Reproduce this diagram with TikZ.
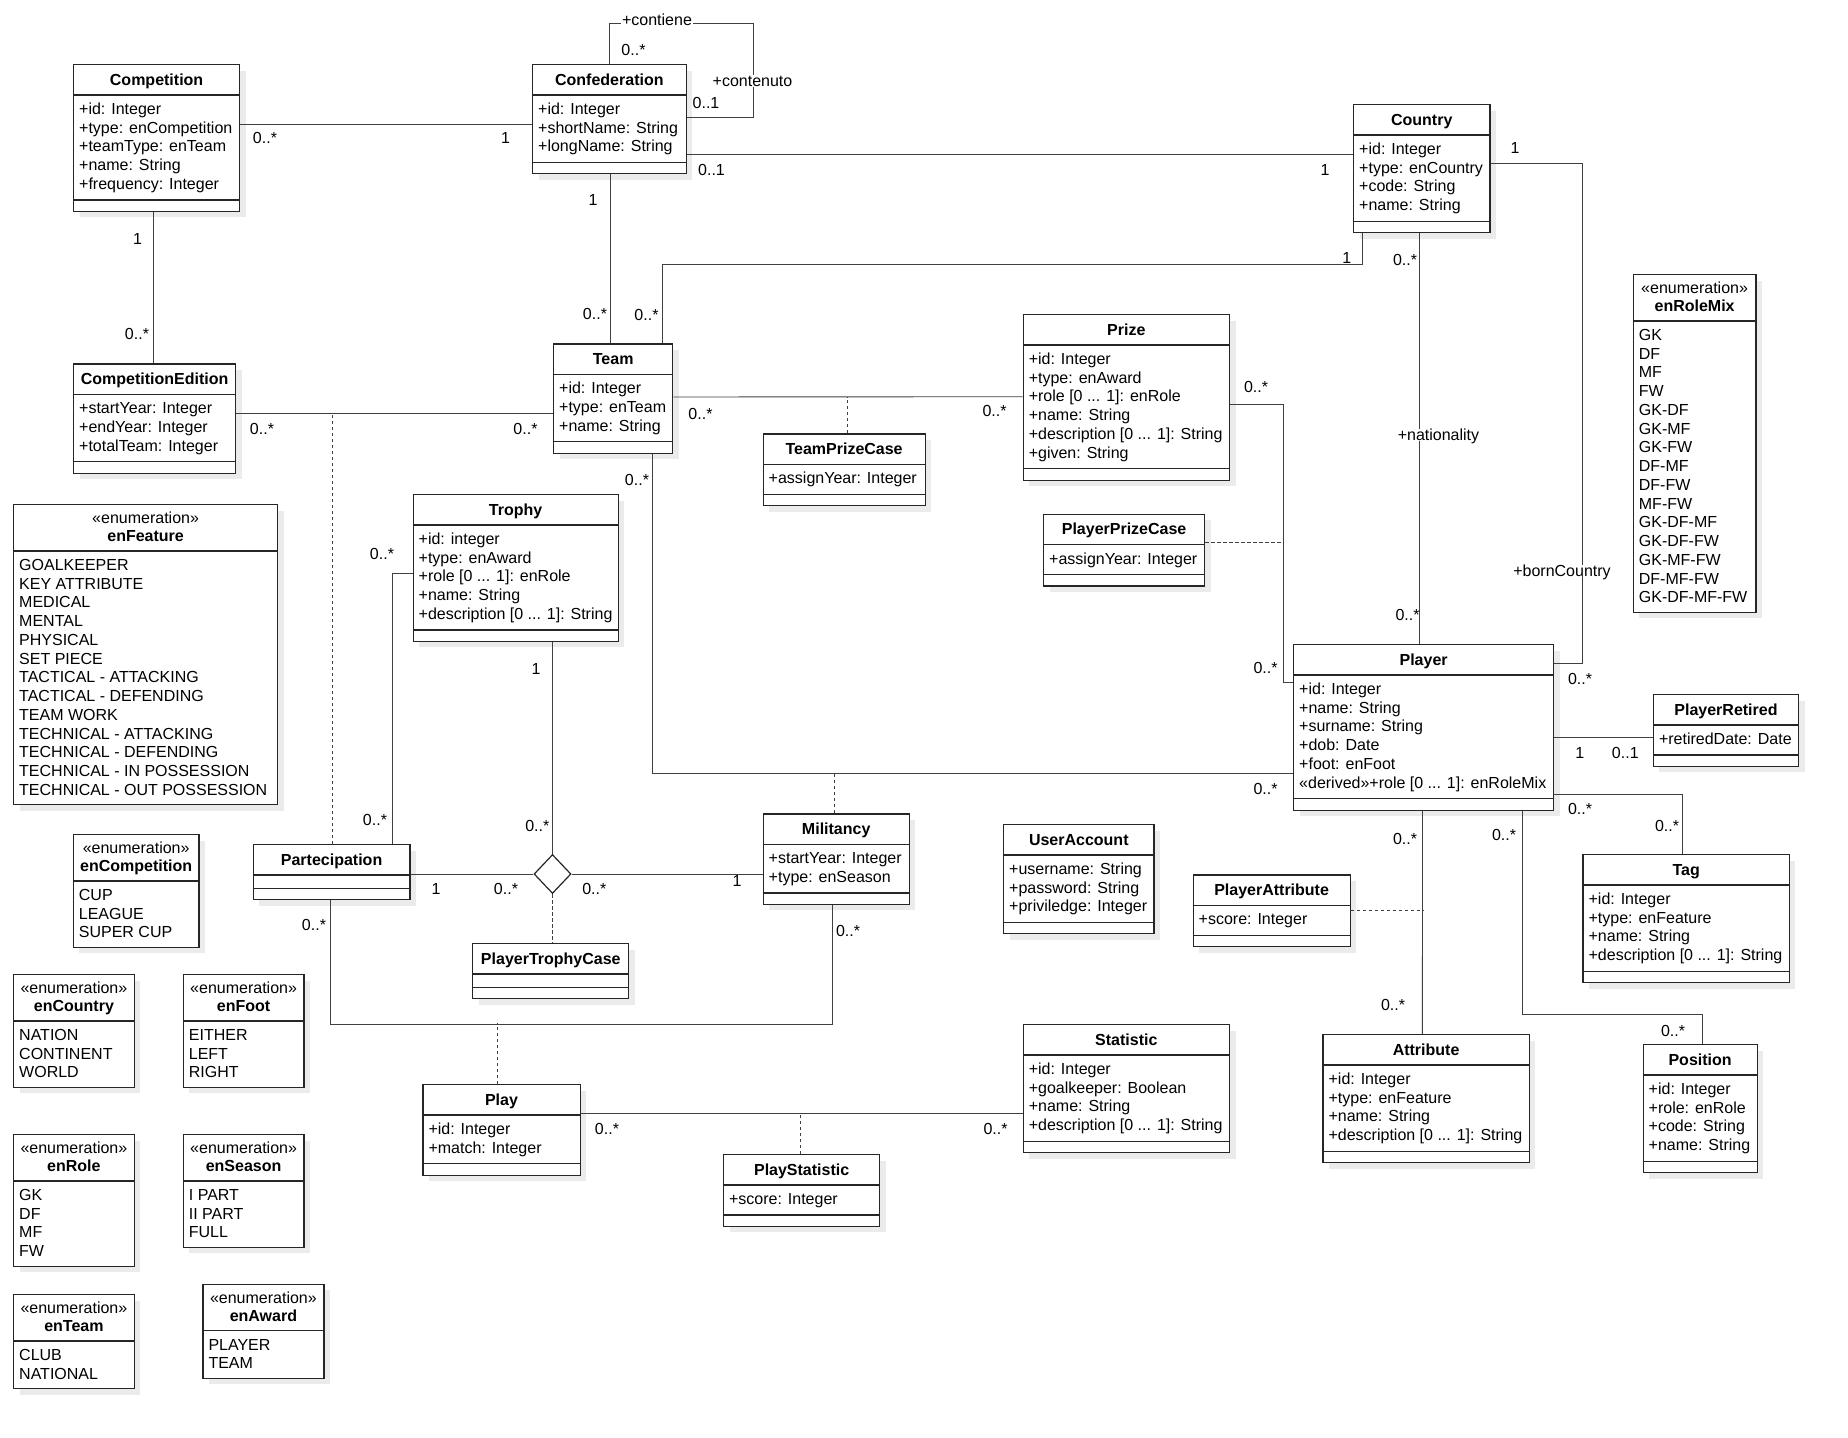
\documentclass[tikz,border=0pt]{standalone}
\usepackage{fontspec}
\setmainfont{Liberation Sans}
\usetikzlibrary{shapes.geometric,shadows}

\tikzset{
  classbox/.style={draw=black!85, line width=1.2pt, fill=white, inner sep=0pt,
    drop shadow={shadow xshift=6pt, shadow yshift=-6pt, fill=black!8, opacity=1}},
  sepline/.style={draw=black!85, line width=1.2pt},
  basetext/.style={inner sep=0pt, font=\fontsize{16}{18.75}\selectfont},
  titletext/.style={basetext, font=\fontsize{16}{18.75}\selectfont\bfseries},
  attrtext/.style={basetext, align=left},
  mult/.style={basetext, text height=11.5pt, text depth=0pt},
  rolename/.style={mult, fill=white, inner xsep=1pt},
  assoc/.style={draw=black!75, line width=0.9pt},
  assocdash/.style={assoc, dash pattern=on 3.5pt off 2.5pt},
}

% class: name, left, top, width, number of attributes, title, attributes
\newcommand{\umlclass}[7]{%
  \pgfmathsetmacro{\clsSecH}{#5==0 ? 12 : 18.75*#5+10}%
  \pgfmathsetmacro{\clsBoxH}{43+\clsSecH}%
  \node[classbox, minimum width=#4, minimum height=\clsBoxH, anchor=north west] (#1) at (#2,#3) {};
  \draw[sepline] ([yshift=-31pt]#1.north west) -- ([yshift=-31pt]#1.north east);
  \draw[sepline] ([yshift=12pt]#1.south west) -- ([yshift=12pt]#1.south east);
  \node[titletext, anchor=base] (#1-name) at ([yshift=-21.2pt]#1.north) {#6};
  \ifnum#5>0\relax
    \node[attrtext, anchor=north west] (#1-attrs) at ([xshift=6pt,yshift=-37.15pt]#1.north west) {\rule{0pt}{13pt}#7};
  \fi
}

% enumeration: name, left, top, width, number of items, title, items
\newcommand{\umlenum}[7]{%
  \pgfmathsetmacro{\clsBoxH}{56.5+18.75*#5}%
  \node[classbox, minimum width=#4, minimum height=\clsBoxH, anchor=north west] (#1) at (#2,#3) {};
  \draw[sepline] ([yshift=-47pt]#1.north west) -- ([yshift=-47pt]#1.north east);
  \node[basetext, anchor=base] (#1-stereo) at ([yshift=-19.3pt]#1.north) {«enumeration»};
  \node[titletext, anchor=base] (#1-name) at ([yshift=-37.3pt]#1.north) {#6};
  \node[attrtext, anchor=north west] (#1-items) at ([xshift=6pt,yshift=-53.15pt]#1.north west) {\rule{0pt}{13pt}#7};
}

\begin{document}
\begin{tikzpicture}[x=1pt, y=-1pt]
  \useasboundingbox (0,0) rectangle (1848,1438);

  % classes
  \umlclass{comp}{73}{64}{166}{5}{Competition}{+id: Integer\\+type: enCompetition\\+teamType: enTeam\\+name: String\\+frequency: Integer}
  \umlclass{conf}{532}{64}{153.5}{3}{Confederation}{+id: Integer\\+shortName: String\\+longName: String}
  \umlclass{country}{1353}{104}{136.3}{4}{Country}{+id: Integer\\+type: enCountry\\+code: String\\+name: String}
  \umlclass{compEd}{73}{363.3}{162}{3}{CompetitionEdition}{+startYear: Integer\\+endYear: Integer\\+totalTeam: Integer}
  \umlclass{team}{553}{343.3}{119.2}{3}{Team}{+id: Integer\\+type: enTeam\\+name: String}
  \umlclass{prize}{1022.6}{314}{206.3}{6}{Prize}{+id: Integer\\+type: enAward\\+role [0 ... 1]: enRole\\+name: String\\+description [0 ... 1]: String\\+given: String}
  \umlclass{teamPrize}{762.5}{433.3}{162}{1}{TeamPrizeCase}{+assignYear: Integer}
  \umlclass{trophy}{412.5}{494}{205.1}{5}{Trophy}{+id: integer\\+type: enAward\\+role [0 ... 1]: enRole\\+name: String\\+description [0 ... 1]: String}
  \umlclass{playerPrize}{1043}{513.7}{161}{1}{PlayerPrizeCase}{+assignYear: Integer}
  \umlclass{player}{1293}{644}{260}{6}{Player}{+id: Integer\\+name: String\\+surname: String\\+dob: Date\\+foot: enFoot\\«derived»+role [0 ... 1]: enRoleMix}
  \umlclass{retired}{1652.8}{694}{145.2}{1}{PlayerRetired}{+retiredDate: Date}
  \umlclass{part}{252.6}{844}{156.8}{0}{Partecipation}{}
  \umlclass{milit}{762.5}{813.3}{146.2}{2}{Militancy}{+startYear: Integer\\+type: enSeason}
  \umlclass{account}{1003}{824}{150.4}{3}{UserAccount}{+username: String\\+password: String\\+priviledge: Integer}
  \umlclass{playerAttr}{1192.5}{874.3}{157}{1}{PlayerAttribute}{+score: Integer}
  \umlclass{tag}{1582.4}{854}{206.3}{4}{Tag}{+id: Integer\\+type: enFeature\\+name: String\\+description [0 ... 1]: String}
  \umlclass{ptc}{472.2}{943}{156}{0}{PlayerTrophyCase}{}
  \umlclass{stat}{1022.6}{1024}{206.3}{4}{Statistic}{+id: Integer\\+goalkeeper: Boolean\\+name: String\\+description [0 ... 1]: String}
  \umlclass{attr}{1322.4}{1034}{206.2}{4}{Attribute}{+id: Integer\\+type: enFeature\\+name: String\\+description [0 ... 1]: String}
  \umlclass{position}{1642.5}{1044}{114}{4}{Position}{+id: Integer\\+role: enRole\\+code: String\\+name: String}
  \umlclass{play}{422.3}{1084}{157.2}{2}{Play}{+id: Integer\\+match: Integer}
  \umlclass{playStat}{722.9}{1154}{156.3}{1}{PlayStatistic}{+score: Integer}

  % enumerations
  \umlenum{enRoleMix}{1632.7}{274}{122.6}{15}{enRoleMix}{GK\\DF\\MF\\FW\\GK-DF\\GK-MF\\GK-FW\\DF-MF\\DF-FW\\MF-FW\\GK-DF-MF\\GK-DF-FW\\GK-MF-FW\\DF-MF-FW\\GK-DF-MF-FW}
  \umlenum{enFeature}{13}{504}{264}{13}{enFeature}{GOALKEEPER\\KEY ATTRIBUTE\\MEDICAL\\MENTAL\\PHYSICAL\\SET PIECE\\TACTICAL - ATTACKING\\TACTICAL - DEFENDING\\TEAM WORK\\TECHNICAL - ATTACKING\\TECHNICAL - DEFENDING\\TECHNICAL - IN POSSESSION\\TECHNICAL - OUT POSSESSION}
  \umlenum{enCompetition}{72.7}{834}{125.7}{3}{enCompetition}{CUP\\LEAGUE\\SUPER CUP}
  \umlenum{enCountry}{13}{974}{120.6}{3}{enCountry}{NATION\\CONTINENT\\WORLD}
  \umlenum{enFoot}{182.7}{974}{120.6}{3}{enFoot}{EITHER\\LEFT\\RIGHT}
  \umlenum{enRole}{13}{1134}{120.6}{4}{enRole}{GK\\DF\\MF\\FW}
  \umlenum{enSeason}{182.7}{1134}{120.6}{3}{enSeason}{I PART\\II PART\\FULL}
  \umlenum{enTeam}{13}{1294}{120.6}{2}{enTeam}{CLUB\\NATIONAL}
  \umlenum{enAward}{202.3}{1283.7}{121}{2}{enAward}{PLAYER\\TEAM}

  \node[diamond, draw=black!85, line width=1.2pt, fill=white, inner sep=0pt,
        minimum width=37pt, minimum height=39pt] (dia) at (552.5,874) {};

  % associations
  \draw[assoc] ([yshift=-60pt]comp.north east) -- ([yshift=-60pt]conf.north west);
  \draw[assoc] ([xshift=77pt]conf.north west) -- ++(0,-40.4)
    -| ([xshift=67.2pt,yshift=-53.7pt]conf.north east) -- ([yshift=-53.7pt]conf.north east);
  \draw[assoc] ([yshift=-90.3pt]conf.north east) -- ([yshift=-50.3pt]country.north west);
  \draw[assoc] ([yshift=-59.7pt]country.north east)
    -| ([xshift=28.7pt,yshift=-19pt]player.north east) -- ([yshift=-19pt]player.north east);
  \draw[assoc] ([xshift=9.4pt]country.south west) -- ++(0,31.3) -| ([xshift=109.4pt]team.north west);
  \draw[assoc] ([xshift=66.8pt]country.south west) -- ([xshift=126.8pt]player.north west);
  \draw[assoc] ([xshift=78pt]conf.south west) -- ([xshift=57pt]team.north west);
  \draw[assoc] ([xshift=80.2pt]comp.south west) -- ([xshift=80.2pt]compEd.north west);
  \draw[assoc] ([yshift=-50.3pt]compEd.north east) -- ([yshift=-70.3pt]team.north west);
  \draw[assocdash] ([xshift=80.2pt]part.north west) -- ++(0,-430.7);
  \draw[assoc] ([yshift=-53.7pt]team.north east) -- ([yshift=-82.7pt]prize.north west);
  \draw[assocdash] ([xshift=85.3pt]teamPrize.north west) -- ++(0,-36.6);
  \draw[assoc] ([yshift=-90pt]prize.north east)
    -| ([xshift=-10pt,yshift=-38.7pt]player.north west) -- ([yshift=-38.7pt]player.north west);
  \draw[assocdash] ([yshift=-28.7pt]playerPrize.north east) -- ++(79,0);
  \draw[assoc] ([xshift=99.5pt]team.south west) |- ([yshift=-129.3pt]player.north west);
  \draw[assocdash] ([xshift=72.3pt]milit.north west) -- ++(0,-40);
  \draw[assoc] ([xshift=140.3pt]part.north west) |- ([yshift=-79.7pt]trophy.north west);
  \draw[assoc] ([xshift=140pt]trophy.south west) -- (dia.north);
  \draw[assoc] (part.east |- dia.west) -- (dia.west);
  \draw[assoc] (dia.east) -- (milit.west |- dia.east);
  \draw[assocdash] (dia.south) -- (dia.south |- ptc.north);
  \draw[assoc] ([xshift=77.4pt]part.south west) -- ++(0,124) -| ([xshift=70pt]milit.south west);
  \draw[assocdash] ([xshift=75.5pt]play.north west) -- ++(0,-61);
  \draw[assoc] ([yshift=-29pt]play.north east) -- ([yshift=-89pt]stat.north west);
  \draw[assocdash] ([xshift=77.6pt]playStat.north west) -- ++(0,-41);
  \draw[assoc] ([yshift=-93.3pt]player.north east) -- ([yshift=-43.3pt]retired.north west);
  \draw[assoc] ([yshift=-150pt]player.north east) -| ([xshift=100.1pt]tag.north west);
  \draw[assoc] ([xshift=129.5pt]player.south west) -- ([xshift=100pt]attr.north west);
  \draw[assocdash] ([yshift=-36pt]playerAttr.north east) -- ++(73,0);
  \draw[assoc] ([xshift=229.7pt]player.south west) -- ++(0,203.7) -| ([xshift=59.8pt]position.north west);

  % role names
  \node[rolename] (r1) at (657,20) {+contiene};
  \node[rolename] (r2) at (752.5,81) {+contenuto};
  \node[rolename] (r3) at (1562,570.7) {+bornCountry};
  \node[rolename] (r4) at (1438.5,435) {+nationality};

  % multiplicities
  \node[mult] (m1) at (265,138) {0..*};
  \node[mult] (m2) at (505.6,138) {1};
  \node[mult] (m3) at (633.5,50) {0..*};
  \node[mult] (m4) at (706,103) {0..1};
  \node[mult] (m5) at (711.5,170) {0..1};
  \node[mult] (m6) at (1325,170) {1};
  \node[mult] (m7) at (1515,147.7) {1};
  \node[mult] (m8) at (1580,679) {0..*};
  \node[mult] (m9) at (1346.7,258) {1};
  \node[mult] (m10) at (646.5,315) {0..*};
  \node[mult] (m11) at (1405,259.3) {0..*};
  \node[mult] (m12) at (1407.5,615) {0..*};
  \node[mult] (m13) at (593,200) {1};
  \node[mult] (m14) at (595,314) {0..*};
  \node[mult] (m15) at (137.5,238.3) {1};
  \node[mult] (m16) at (137,333.3) {0..*};
  \node[mult] (m17) at (262,428.3) {0..*};
  \node[mult] (m18) at (525.5,428.3) {0..*};
  \node[mult] (m19) at (700.5,413.3) {0..*};
  \node[mult] (m20) at (994.5,410.7) {0..*};
  \node[mult] (m21) at (1256,386.6) {0..*};
  \node[mult] (m22) at (1265.5,667.7) {0..*};
  \node[mult] (m23) at (637,479.7) {0..*};
  \node[mult] (m24) at (1265.5,788.3) {0..*};
  \node[mult] (m25) at (382,553.3) {0..*};
  \node[mult] (m26) at (375,820) {0..*};
  \node[mult] (m27) at (536,668.3) {1};
  \node[mult] (m28) at (537.3,825.7) {0..*};
  \node[mult] (m29) at (436,888.3) {1};
  \node[mult] (m30) at (506,888.3) {0..*};
  \node[mult] (m31) at (594.3,888.3) {0..*};
  \node[mult] (m32) at (737,881) {1};
  \node[mult] (m33) at (314,925) {0..*};
  \node[mult] (m34) at (848,931) {0..*};
  \node[mult] (m35) at (607,1128.7) {0..*};
  \node[mult] (m36) at (995.5,1128.7) {0..*};
  \node[mult] (m37) at (1579.7,752.7) {1};
  \node[mult] (m38) at (1625.3,752.7) {0..1};
  \node[mult] (m39) at (1580,808.3) {0..*};
  \node[mult] (m40) at (1667,826) {0..*};
  \node[mult] (m41) at (1405,838.3) {0..*};
  \node[mult] (m42) at (1393,1004.7) {0..*};
  \node[mult] (m43) at (1504,835) {0..*};
  \node[mult] (m44) at (1673,1030.3) {0..*};
\end{tikzpicture}
\end{document}
